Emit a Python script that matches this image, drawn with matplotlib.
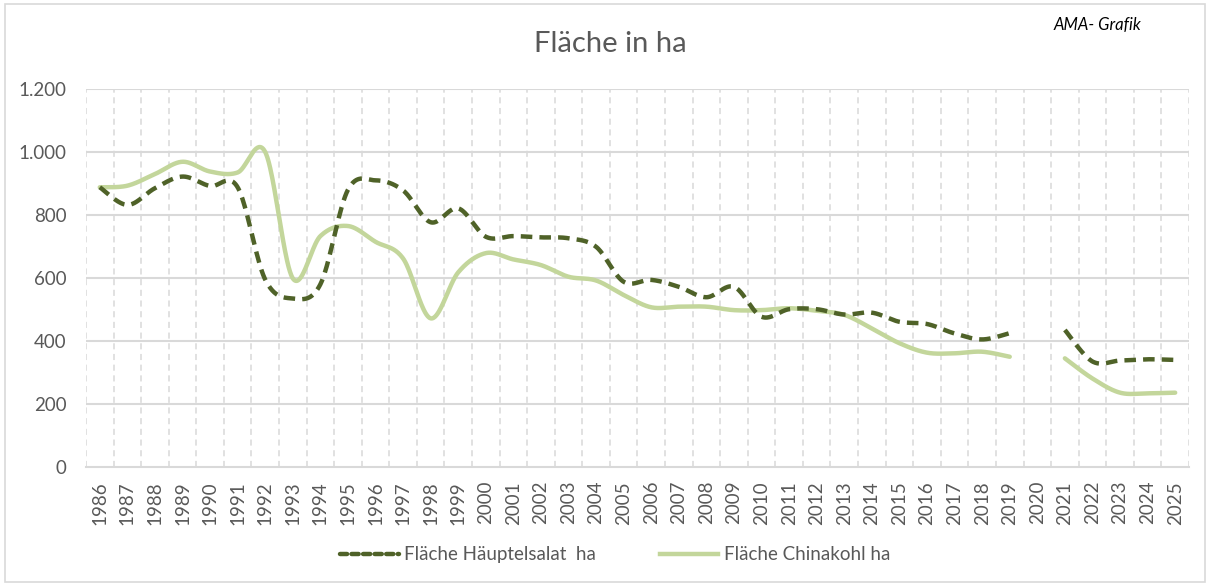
import numpy as np
import matplotlib
matplotlib.use("Agg")
import matplotlib.pyplot as plt
from matplotlib.lines import Line2D
from matplotlib.patches import Rectangle

plt.rcParams['font.family'] = ['Lato', 'DejaVu Sans']

years = [str(y) for y in range(1986, 2026)]
nan = np.nan
salat = [888, 832, 885, 922, 892, 888, 595, 535, 580, 880,
         910, 878, 777, 821, 731, 733, 729, 726, 699, 588,
         594, 572, 539, 572, 477, 501, 501, 484, 490, 461,
         454, 424, 405, 425, nan, 435, 335, 338, 342, 340]
chinakohl = [888, 893, 930, 969, 938, 935, 1000, 599, 733, 765,
             715, 662, 472, 618, 679, 659, 641, 604, 592, 546,
             507, 509, 509, 498, 498, 504, 496, 483, 440, 393,
             363, 361, 366, 350, nan, 345, 281, 236, 234, 236]
series_names = ["Fläche Häuptelsalat  ha", "Fläche Chinakohl ha"]
colors = ["#4f6228", "#c3d69b"]
y_ticks = [0, 200, 400, 600, 800, 1000, 1200]
y_labels = ["0", "200", "400", "600", "800", "1.000", "1.200"]


def smooth(xs, ys, n=40):
    """Excel-like Bezier smoothing of consecutive valid points."""
    outx, outy = [], []
    xs = np.asarray(xs, float)
    ys = np.asarray(ys, float)
    segs = []
    cur = []
    for x, y in zip(xs, ys):
        if np.isnan(y):
            if cur:
                segs.append(cur)
            cur = []
        else:
            cur.append((x, y))
    if cur:
        segs.append(cur)
    for seg in segs:
        P = np.array(seg)
        m = len(P)
        px, py = [], []
        for i in range(m - 1):
            p0 = P[i - 1] if i > 0 else P[i]
            p1 = P[i]
            p2 = P[i + 1]
            p3 = P[i + 2] if i + 2 < m else P[i + 1]
            c1 = p1 + (p2 - p0) / 6.0
            c2 = p2 - (p3 - p1) / 6.0
            t = np.linspace(0, 1, n)[:, None]
            b = ((1 - t) ** 3) * p1 + 3 * ((1 - t) ** 2) * t * c1 + 3 * (1 - t) * t ** 2 * c2 + t ** 3 * p2
            px.extend(b[:, 0]); py.extend(b[:, 1])
        outx.extend(px + [nan]); outy.extend(py + [nan])
    return np.array(outx), np.array(outy)


fig = plt.figure(figsize=(12.11, 5.87), dpi=100)
ax = fig.add_axes([0.071, 0.2044, 0.9108, 0.644])

x = np.arange(len(years))
ax.set_xlim(-0.5, len(years) - 0.5)
ax.set_ylim(0, 1200)

for gx in np.arange(len(years) + 1) - 0.5:
    ax.axvline(gx, color="#d9d9d9", lw=1.1, ls=(0, (4, 3)), zorder=1)
for gy in y_ticks[1:]:
    ax.axhline(gy, color="#d9d9d9", lw=1.5, zorder=1)

sx, sy = smooth(x, salat)
ax.plot(sx, sy, color=colors[0], lw=3.2, ls=(0, (2.6, 1.6)), zorder=3)
cx, cy = smooth(x, chinakohl)
ax.plot(cx, cy, color=colors[1], lw=3.2, solid_capstyle='round', zorder=2)

ax.set_yticks(y_ticks)
ax.set_yticklabels(y_labels)
ax.set_xticks(x)
ax.set_xticklabels(years, rotation=90)
ax.tick_params(axis='both', length=0, labelsize=13.5, labelcolor="#595959")
ax.tick_params(axis='y', pad=14)
ax.tick_params(axis='x', pad=10)
for s in ["left", "right", "top"]:
    ax.spines[s].set_visible(False)
ax.spines["bottom"].set_color("#d9d9d9")
ax.spines["bottom"].set_linewidth(1.5)

fig.text(0.504, 0.925, "Fläche in ha", ha="center", va="center", fontsize=21, color="#595959")
fig.text(0.906, 0.957, "AMA- Grafik", ha="center", va="center", fontsize=12, style="italic", color="black")

handles = [Line2D([], [], color=colors[0], lw=3.2, ls=(0, (1.6, 1.0)), dash_capstyle='round'),
           Line2D([], [], color=colors[1], lw=3.2)]
fig.legend(handles, series_names, loc="center", bbox_to_anchor=(0.508, 0.055), ncol=2,
           frameon=False, fontsize=13.5, labelcolor="#595959", handlelength=3.1,
           columnspacing=3.4, handletextpad=0.3)

fig.add_artist(Rectangle((0.004, 0.008), 0.991, 0.985, transform=fig.transFigure,
                         fill=False, edgecolor="#d9d9d9", lw=1.2))

fig.savefig("out.png", dpi=100)
